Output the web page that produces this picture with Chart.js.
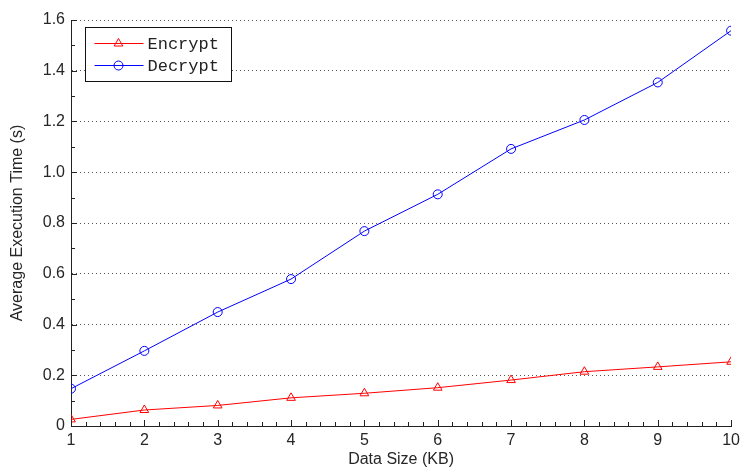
<!DOCTYPE html>
<html>
<head>
<meta charset="utf-8">
<script src="https://cdn.jsdelivr.net/npm/chart.js@4/dist/chart.umd.min.js"></script>
<style>
  html, body { margin: 0; padding: 0; background: #ffffff; }
  #wrap { position: relative; width: 745px; height: 474px; }
  canvas { display: block; }
</style>
</head>
<body>
<div id="wrap"><canvas id="c" width="745" height="474"></canvas></div>
<script>
// ---- data ----
const dataSizes = [1, 2, 3, 4, 5, 6, 7, 8, 9, 10];
const encryptTimes = [0.026, 0.063, 0.081, 0.111, 0.129, 0.151, 0.181, 0.214, 0.233, 0.253];
const decryptTimes = [0.147, 0.296, 0.449, 0.579, 0.768, 0.913, 1.092, 1.206, 1.354, 1.558];
const seriesLabels = ['Encrypt', 'Decrypt'];
const xTitle = 'Data Size (KB)';
const yTitle = 'Average Execution Time (s)';

const axisColor = '#222222';
const tickFont = { family: '"Liberation Sans", Arial, sans-serif', size: 16 };

// inward major/minor tick marks (MATLAB style)
const inwardTicks = {
  id: 'inwardTicks',
  afterDraw(chart) {
    const ctx = chart.ctx;
    const xs = chart.scales.x, ys = chart.scales.y;
    const ca = chart.chartArea;
    ctx.save();
    ctx.strokeStyle = axisColor;
    ctx.lineWidth = 1;
    ctx.beginPath();
    for (let i = 0; i <= 45; i++) {
      const v = xs.min + i * 0.2;
      const px = Math.round(xs.getPixelForValue(v)) + 0.5;
      const len = (i % 5 === 0) ? 6 : 4;
      ctx.moveTo(px, ca.bottom);
      ctx.lineTo(px, ca.bottom - len);
    }
    for (let i = 0; i <= 16; i++) {
      const v = i * 0.1;
      const py = Math.round(ys.getPixelForValue(v)) + 0.5;
      const len = (i % 2 === 0) ? 6 : 4;
      ctx.moveTo(ca.left, py);
      ctx.lineTo(ca.left + len, py);
    }
    ctx.stroke();
    ctx.restore();
  }
};

// boxed legend drawn in the upper-left of the plot
const boxLegend = {
  id: 'boxLegend',
  afterDraw(chart) {
    const ctx = chart.ctx;
    const ca = chart.chartArea;
    const bx = ca.left + 14.5, by = ca.top + 7.5, bw = 146, bh = 54;
    ctx.save();
    ctx.fillStyle = '#ffffff';
    ctx.fillRect(bx, by, bw, bh);
    ctx.strokeStyle = '#111111';
    ctx.lineWidth = 1;
    ctx.strokeRect(bx, by, bw, bh);
    ctx.font = '17px "Liberation Mono", "Courier New", monospace';
    ctx.textBaseline = 'middle';
    ctx.textAlign = 'left';
    chart.data.datasets.forEach((ds, i) => {
      const y = by + 16 + i * 22;
      ctx.strokeStyle = ds.borderColor;
      ctx.lineWidth = 1;
      ctx.beginPath();
      ctx.moveTo(bx + 9, y);
      ctx.lineTo(bx + 58, y);
      ctx.stroke();
      ctx.fillStyle = 'rgba(0,0,0,0)';
      ctx.strokeStyle = ds.pointBorderColor;
      Chart.helpers.drawPoint(ctx, {
        pointStyle: ds.pointStyle,
        radius: ds.pointRadius,
        borderWidth: ds.pointBorderWidth,
        rotation: 0
      }, bx + 33, y);
      ctx.fillStyle = '#222222';
      ctx.fillText(ds.label, bx + 62, y + 1);
    });
    ctx.restore();
  }
};

const ctx = document.getElementById('c').getContext('2d');
new Chart(ctx, {
  type: 'line',
  data: {
    datasets: [
      {
        label: seriesLabels[0],
        data: dataSizes.map((x, i) => ({ x: x, y: encryptTimes[i] })),
        borderColor: '#ff0000',
        backgroundColor: 'rgba(0,0,0,0)',
        borderWidth: 1,
        pointStyle: 'triangle',
        pointRadius: 5,
        pointBorderWidth: 1,
        pointBorderColor: '#ff0000',
        pointBackgroundColor: 'rgba(0,0,0,0)',
        tension: 0
      },
      {
        label: seriesLabels[1],
        data: dataSizes.map((x, i) => ({ x: x, y: decryptTimes[i] })),
        borderColor: '#0000ff',
        backgroundColor: 'rgba(0,0,0,0)',
        borderWidth: 1,
        pointStyle: 'circle',
        pointRadius: 4.5,
        pointBorderWidth: 1,
        pointBorderColor: '#0000ff',
        pointBackgroundColor: 'rgba(0,0,0,0)',
        tension: 0
      }
    ]
  },
  options: {
    responsive: false,
    animation: false,
    devicePixelRatio: 1,
    layout: { padding: { top: 20, right: 13, left: 0, bottom: 0 } },
    plugins: {
      legend: { display: false },
      tooltip: { enabled: false },
      title: { display: false }
    },
    scales: {
      x: {
        type: 'linear',
        min: 1,
        max: 10,
        afterFit(s) { s.height = 48; },
        grid: { display: false, drawTicks: false },
        border: { display: true, color: axisColor, width: 1 },
        ticks: {
          stepSize: 1,
          padding: 5,
          color: '#262626',
          font: tickFont,
          maxRotation: 0,
          autoSkip: false
        },
        title: {
          display: true,
          text: xTitle,
          color: '#262626',
          font: tickFont,
          padding: { top: 0, bottom: 5 }
        }
      },
      y: {
        type: 'linear',
        min: 0,
        max: 1.6,
        afterFit(s) { s.width = 71; },
        grid: {
          display: true,
          drawTicks: false,
          color: '#555555',
          lineWidth: 1
        },
        border: { display: true, color: axisColor, width: 1, dash: [1, 3] },
        ticks: {
          stepSize: 0.2,
          padding: 6,
          color: '#262626',
          font: tickFont,
          callback: (v) => (Math.abs(v) < 1e-9 ? '0' : Number(v).toFixed(1))
        },
        title: {
          display: true,
          text: yTitle,
          color: '#262626',
          font: tickFont,
          padding: { top: 8, bottom: 0 }
        }
      }
    }
  },
  plugins: [inwardTicks, boxLegend]
});
</script>
</body>
</html>
